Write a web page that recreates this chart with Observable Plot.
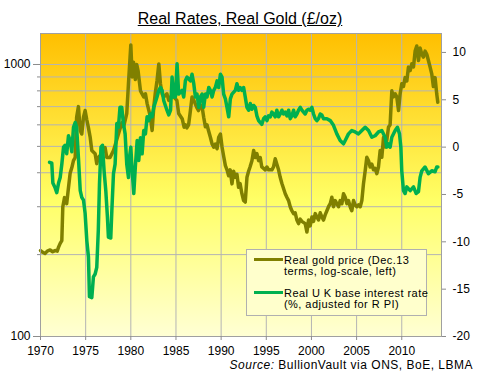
<!DOCTYPE html>
<html><head><meta charset="utf-8">
<script src="https://cdn.jsdelivr.net/npm/d3@7"></script>
<script src="https://cdn.jsdelivr.net/npm/@observablehq/plot@0.6"></script>
<style>
html,body{margin:0;padding:0;background:#fff;}
#wrap{position:relative;width:480px;height:374px;overflow:hidden;font-family:"Liberation Sans",Arial,sans-serif;color:#000;}
#wrap svg{position:absolute;left:0;top:0;}
.title{position:absolute;top:10px;left:0;width:480px;text-align:center;font-size:16px;text-decoration:underline;white-space:nowrap;}
.source{position:absolute;top:357.5px;right:7px;font-size:12px;letter-spacing:0.5px;white-space:nowrap;}
.legend{position:absolute;left:246px;top:249px;width:179px;height:65px;background:#ffffcc;border:1px solid #b0b0b0;}
.lg-line{position:absolute;height:3.5px;}
.lg-text{position:absolute;font-size:11px;letter-spacing:0.45px;white-space:nowrap;}
</style></head>
<body><div id="wrap"></div>
<script>
// ---- data ----
const goldYears = [1970.0,1970.25,1970.5,1970.75,1971.07,1971.35,1971.62,1971.85,1972.0,1972.18,1972.36,1972.47,1972.66,1972.9,1973.1,1973.28,1973.47,1973.65,1973.84,1974.0,1974.2,1974.4,1974.57,1974.76,1974.94,1975.13,1975.31,1975.5,1975.68,1976.05,1976.23,1976.4,1976.8,1977.15,1977.34,1977.7,1978.08,1978.26,1978.63,1979.0,1979.2,1979.55,1979.74,1980.0,1980.15,1980.3,1980.5,1980.65,1980.8,1981.07,1981.43,1981.62,1981.8,1982.0,1982.17,1982.36,1982.54,1982.7,1982.9,1983.1,1983.28,1983.46,1983.65,1984.0,1984.2,1984.4,1984.75,1985.1,1985.3,1985.7,1985.9,1986.04,1986.2,1986.4,1986.6,1986.78,1986.97,1987.3,1987.5,1987.7,1987.9,1988.07,1988.26,1988.44,1988.6,1988.81,1989.0,1989.18,1989.36,1989.55,1989.73,1989.92,1990.1,1990.3,1990.47,1990.65,1990.83,1991.0,1991.2,1991.38,1991.57,1991.75,1991.93,1992.1,1992.3,1992.49,1992.67,1992.86,1993.04,1993.2,1993.41,1993.6,1993.78,1993.96,1994.15,1994.33,1994.5,1994.7,1994.88,1995.07,1995.25,1995.62,1995.8,1995.99,1996.17,1996.36,1996.54,1996.73,1996.91,1997.1,1997.28,1997.47,1997.65,1997.83,1998.02,1998.2,1998.39,1998.57,1998.76,1998.94,1999.31,1999.5,1999.68,1999.86,2000.05,2000.23,2000.42,2000.6,2000.78,2000.97,2001.15,2001.34,2001.52,2001.71,2001.89,2002.08,2002.26,2002.44,2002.63,2002.81,2003.0,2003.18,2003.37,2003.55,2003.74,2003.92,2004.1,2004.29,2004.47,2004.66,2004.84,2005.03,2005.21,2005.4,2005.58,2005.76,2005.95,2006.13,2006.32,2006.5,2006.69,2006.87,2007.05,2007.24,2007.42,2007.61,2007.79,2007.98,2008.16,2008.34,2008.53,2008.71,2008.9,2009.08,2009.27,2009.45,2009.64,2009.82,2010.0,2010.19,2010.37,2010.56,2010.74,2010.93,2011.11,2011.3,2011.48,2011.66,2011.85,2012.03,2012.22,2012.4,2012.58,2012.77,2012.95,2013.14,2013.32,2013.5,2013.69,2013.87,2013.99];
const goldValues = [207,204,202,206,208,205,207,206,213,220,225,300,324,308,353,398,418,443,455,640,700,572,555,640,677,625,585,540,483,470,432,455,470,495,455,455,483,505,555,610,590,660,850,1180,900,1020,880,1000,950,800,760,780,720,677,640,572,696,780,872,1005,850,780,760,780,738,760,760,738,660,630,588,600,585,600,677,760,740,696,677,710,696,640,590,600,572,540,510,497,510,490,540,555,497,456,425,410,390,410,364,405,385,395,354,365,335,316,312,385,405,420,443,483,455,470,443,455,420,415,410,420,410,410,420,450,430,410,385,365,350,335,325,316,300,290,283,285,268,260,270,265,260,242,268,255,275,265,283,275,268,285,275,268,280,290,300,308,325,300,316,308,300,316,308,335,325,308,316,300,290,316,305,300,305,300,316,364,407,456,443,420,430,410,415,397,420,483,456,540,497,525,588,600,800,760,780,760,677,780,850,830,895,870,978,950,1005,980,1120,1170,1035,1150,1090,1065,1120,1090,1035,978,924,830,895,780,726];

const rateYears = [1971.0,1971.25,1971.37,1971.62,1971.8,1972.0,1972.18,1972.36,1972.55,1972.73,1972.9,1973.1,1973.28,1973.47,1973.65,1973.84,1974.0,1974.2,1974.4,1974.57,1974.76,1974.94,1975.13,1975.31,1975.42,1975.68,1975.86,1976.05,1976.23,1976.4,1976.53,1976.7,1976.86,1977.04,1977.23,1977.41,1977.52,1977.78,1977.9,1978.08,1978.26,1978.45,1978.63,1978.8,1979.0,1979.18,1979.37,1979.55,1979.74,1979.85,1980.0,1980.15,1980.33,1980.5,1980.7,1980.88,1981.07,1981.25,1981.43,1981.62,1981.8,1981.99,1982.17,1982.36,1982.54,1982.9,1983.1,1983.28,1983.46,1983.65,1984.0,1984.2,1984.4,1984.57,1984.75,1984.94,1985.12,1985.3,1985.67,1985.86,1986.04,1986.23,1986.6,1986.78,1986.97,1987.15,1987.33,1987.52,1987.7,1987.89,1988.07,1988.26,1988.44,1988.63,1988.81,1989.0,1989.18,1989.36,1989.55,1989.73,1989.92,1990.1,1990.28,1990.47,1990.65,1990.84,1991.02,1991.2,1991.57,1991.75,1991.93,1992.1,1992.3,1992.49,1992.67,1992.86,1993.04,1993.23,1993.41,1993.6,1993.78,1993.96,1994.15,1994.33,1994.5,1994.7,1994.88,1995.07,1995.25,1995.44,1995.62,1995.8,1995.99,1996.17,1996.36,1996.54,1996.73,1996.91,1997.1,1997.28,1997.47,1997.65,1997.83,1998.02,1998.2,1998.39,1998.57,1998.76,1998.94,1999.31,1999.5,1999.68,1999.86,2000.05,2000.23,2000.42,2000.6,2000.78,2000.97,2001.15,2001.34,2001.71,2002.08,2002.44,2002.81,2003.18,2003.55,2003.74,2004.1,2004.47,2004.84,2005.21,2005.58,2005.95,2006.32,2006.69,2007.05,2007.42,2007.79,2008.16,2008.34,2008.53,2008.71,2008.9,2009.27,2009.52,2009.75,2009.9,2010.0,2010.19,2010.37,2010.56,2010.93,2011.3,2011.6,2011.85,2012.03,2012.22,2012.58,2012.95,2013.32,2013.69,2013.87,2014.0];
const rateValues = [-1.6,-1.7,-3.8,-4.3,-4.8,-3.8,-3.2,-1.8,0.0,0.2,-0.7,1.2,0.7,-0.5,2.1,2.6,2.1,-1.1,-4.6,-5.3,-5.6,-7.0,-9.9,-11.6,-15.8,-15.9,-13.7,-13.4,-12.7,-8.8,-3.9,0.0,0.2,-2.5,-4.6,-7.4,-9.5,-9.6,-6.7,-2.8,-1.8,2.5,2.1,4.2,4.2,2.5,1.4,-1.8,-3.2,-1.1,0.0,-2.5,-4.9,-2.1,0.7,-1.4,1.0,-0.7,1.75,1.4,3.2,2.8,3.5,3.2,4.2,5.3,6.0,6.3,6.0,4.9,3.9,3.4,3.9,7.4,5.3,5.3,8.8,5.6,6.0,5.3,7.0,7.4,7.0,7.7,6.7,5.3,5.6,4.2,5.3,5.6,4.2,5.6,5.3,6.3,6.0,5.3,6.0,6.3,7.0,6.3,7.7,7.4,5.6,5.1,4.2,3.2,5.1,5.6,6.0,6.7,6.0,6.3,6.0,6.3,5.3,4.2,3.9,4.6,4.0,4.4,4.2,3.3,2.8,2.6,2.4,3.0,3.2,2.8,3.3,3.2,3.7,3.5,3.2,3.9,3.2,3.5,3.9,3.5,3.7,3.3,3.9,3.0,3.3,3.9,3.2,3.5,3.9,4.2,3.9,3.5,3.9,4.0,3.9,4.2,3.5,3.0,2.8,3.0,3.5,3.4,3.0,3.0,2.8,2.3,1.4,0.7,0.35,0.7,1.4,1.75,1.6,1.4,1.75,2.1,1.75,1.05,1.2,1.6,1.75,1.05,0.0,0.35,0.0,1.05,1.75,2.1,1.4,0.0,-2.5,-4.6,-4.9,-4.2,-4.6,-4.2,-4.9,-4.7,-3.2,-2.5,-2.1,-2.8,-2.5,-2.6,-2.1,-2.1];

const yearTicks = [1970,1975,1980,1985,1990,1995,2000,2005,2010];
const goldMajorTicks = [100,1000];
const goldMinorTicks = [200,300,400,500,600,700,800,900,1000];
const rateTicks = [-20,-15,-10,-5,0,5,10];

const titleText = "Real Rates, Real Gold (£/oz)";
const legendGold = ["Real gold price (Dec.13", "terms, log-scale, left)"];
const legendRate = ["Real U K base interest rate", "(%, adjusted for R PI)"];

// ---- build ----
const goldData = goldYears.map((x, i) => ({x, v: goldValues[i]}));
const rateData = rateYears.map((x, i) => ({x, r: rateValues[i]}));
const GOLD = "#808000", GREEN = "#00b050", GRID = "#b4b4b4", AXIS = "#8c8c8c";

const common = {
  width: 480, height: 374,
  marginTop: 33, marginBottom: 38, marginLeft: 40, marginRight: 39,
  style: {background: "transparent", fontFamily: "'Liberation Sans', Arial, sans-serif", fontSize: "12px", color: "#000", overflow: "visible"}
};

const p1 = Plot.plot({
  ...common,
  x: {domain: [1970, 2014.4]},
  y: {type: "log", domain: [100, 1300]},
  marks: [
    Plot.frame({fill: "url(#bgGrad)"}),
    Plot.gridX(yearTicks, {stroke: GRID, strokeOpacity: 1}),
    Plot.gridY(goldMinorTicks, {stroke: GRID, strokeOpacity: 1}),
    Plot.line(goldData, {x: "x", y: "v", stroke: GOLD, strokeWidth: 3.5, strokeLinejoin: "round"}),
    Plot.frame({stroke: "#a0a0a0"}),
    Plot.axisX(yearTicks, {tickSize: 4, tickPadding: 6, stroke: AXIS, fill: "#000", tickFormat: d => String(d), label: null}),
    Plot.axisY(goldMinorTicks, {anchor: "left", tickSize: 3, stroke: AXIS, tickFormat: () => "", label: null}),
    Plot.axisY(goldMajorTicks, {anchor: "left", tickSize: 7, tickPadding: 3, stroke: AXIS, fill: "#000", tickFormat: d => String(d), label: null})
  ]
});

const defs = d3.select(p1).insert("defs", ":first-child");
const grad = defs.append("linearGradient").attr("id", "bgGrad").attr("x1", 0).attr("y1", 0).attr("x2", 0).attr("y2", 1);
grad.append("stop").attr("offset", "0%").attr("stop-color", "#ffbf00");
grad.append("stop").attr("offset", "55%").attr("stop-color", "#ffff66");
grad.append("stop").attr("offset", "100%").attr("stop-color", "#ffffd4");

const p2 = Plot.plot({
  ...common,
  x: {domain: [1970, 2014.4], axis: null},
  y: {domain: [-20, 12]},
  marks: [
    Plot.line(rateData, {x: "x", y: "r", stroke: GREEN, strokeWidth: 3.5, strokeLinejoin: "round"}),
    Plot.axisY(rateTicks, {anchor: "right", tickSize: 4, tickPadding: 7, stroke: AXIS, fill: "#000", tickFormat: d => String(d), label: null})
  ]
});

const wrap = document.getElementById("wrap");
wrap.appendChild(p1);
wrap.appendChild(p2);

function addDiv(cls, text, css) {
  const d = document.createElement("div");
  d.className = cls;
  if (text != null) d.textContent = text;
  Object.assign(d.style, css || {});
  wrap.appendChild(d);
  return d;
}
addDiv("title", titleText);
const src = addDiv("source", null);
src.innerHTML = "<i>Source:</i> BullionVault via ONS, BoE, LBMA";
addDiv("legend", null);
addDiv("lg-line", null, {left: "254px", top: "257.5px", width: "29px", background: GOLD});
addDiv("lg-line", null, {left: "254px", top: "290.5px", width: "29px", background: GREEN});
addDiv("lg-text", legendGold[0], {left: "284px", top: "254.4px"});
addDiv("lg-text", legendGold[1], {left: "284px", top: "265px"});
addDiv("lg-text", legendRate[0], {left: "284px", top: "286.7px"});
addDiv("lg-text", legendRate[1], {left: "284px", top: "297.7px"});
</script></body></html>
